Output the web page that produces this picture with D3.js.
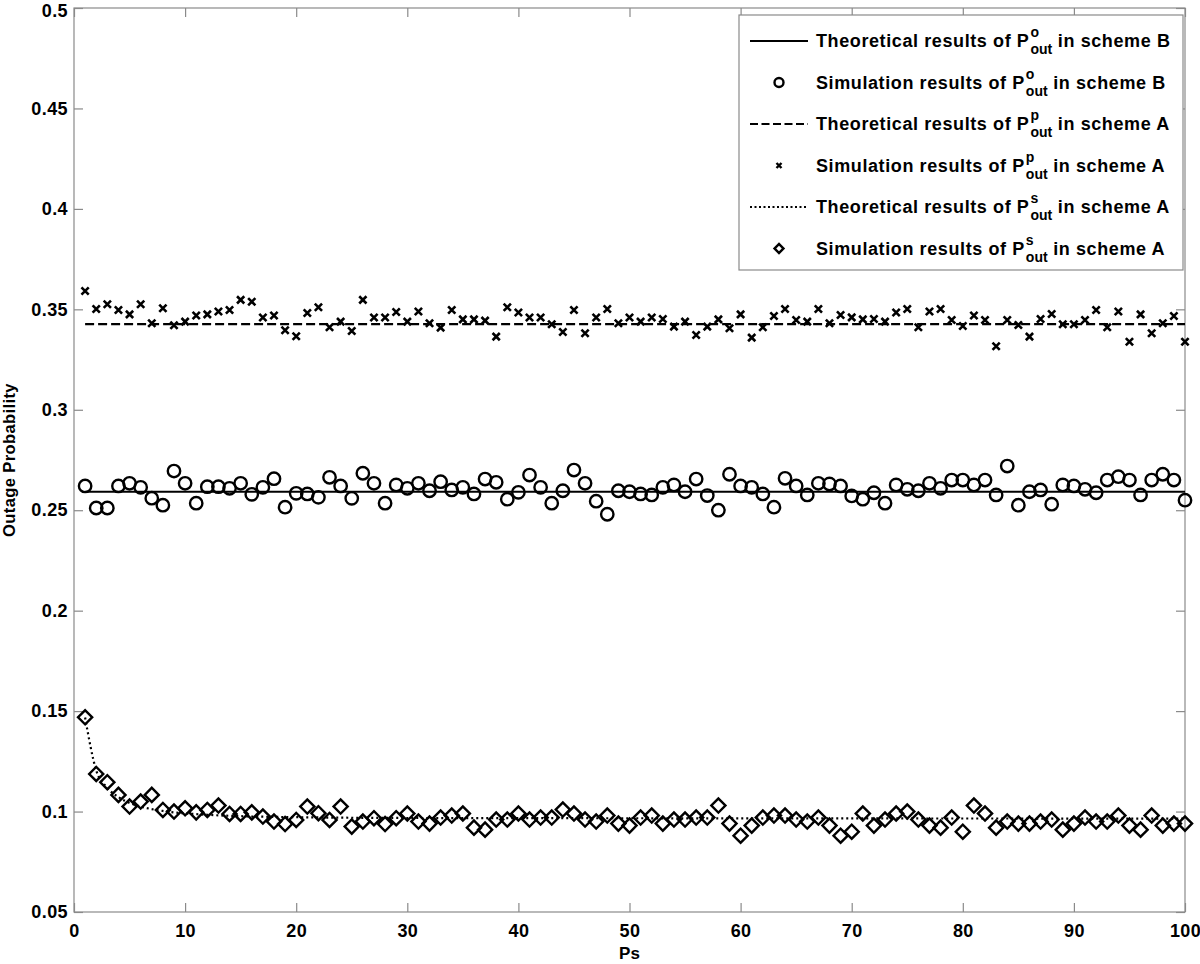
<!DOCTYPE html>
<html>
<head>
<meta charset="utf-8">
<script src="https://cdn.jsdelivr.net/npm/d3@7"></script>
<style>
  body { margin: 0; background: #fff; }
  text { font-family: "Liberation Sans", Arial, Helvetica, sans-serif; font-weight: bold; fill: #000; }
</style>
</head>
<body>
<svg id="chart" width="1200" height="964"></svg>
<script>
// x values (Ps)
const ps = d3.range(1, 101);

// theoretical curves
const theoBX = [1, 100];
const theoB = [0.2592, 0.2592];
const theoAPX = [1, 100];
const theoAP = [0.3426, 0.3426];
const theoASX = [1, 2, 3, 4, 5, 6, 7, 8, 9, 10, 12, 15, 20, 30, 100];
const theoAS = [0.1468, 0.1205, 0.1118, 0.1072, 0.1043, 0.1025, 0.1012, 0.1003, 0.0996, 0.0991, 0.0984, 0.0977, 0.0972, 0.0968, 0.0965];

// simulation results
const simB = [
  0.2621, 0.2511, 0.2511, 0.2621, 0.2634, 0.2614, 0.2560, 0.2525, 0.2695, 0.2634,
  0.2535, 0.2617, 0.2617, 0.2609, 0.2634, 0.2579, 0.2614, 0.2657, 0.2515, 0.2584,
  0.2581, 0.2564, 0.2664, 0.2621, 0.2559, 0.2684, 0.2634, 0.2535, 0.2626, 0.2609,
  0.2634, 0.2597, 0.2642, 0.2601, 0.2614, 0.2581, 0.2655, 0.2639, 0.2555, 0.2589,
  0.2675, 0.2614, 0.2535, 0.2597, 0.2700, 0.2634, 0.2545, 0.2480, 0.2597, 0.2592,
  0.2581, 0.2576, 0.2614, 0.2626, 0.2592, 0.2655, 0.2573, 0.2500, 0.2679, 0.2621,
  0.2614, 0.2581, 0.2515, 0.2659, 0.2621, 0.2576, 0.2634, 0.2631, 0.2621, 0.2571,
  0.2555, 0.2587, 0.2535, 0.2626, 0.2604, 0.2597, 0.2634, 0.2609, 0.2650, 0.2650,
  0.2626, 0.2650, 0.2576, 0.2720, 0.2525, 0.2592, 0.2601, 0.2530, 0.2626, 0.2621,
  0.2604, 0.2587, 0.2650, 0.2667, 0.2650, 0.2576, 0.2650, 0.2679, 0.2650, 0.2550
];
const simAP = [
  0.3591, 0.3502, 0.3525, 0.3497, 0.3475, 0.3525, 0.3431, 0.3505, 0.3421, 0.3439,
  0.3469, 0.3475, 0.3489, 0.3497, 0.3547, 0.3538, 0.3459, 0.3469, 0.3396, 0.3366,
  0.3482, 0.3510, 0.3411, 0.3439, 0.3392, 0.3547, 0.3459, 0.3459, 0.3487, 0.3439,
  0.3489, 0.3431, 0.3409, 0.3497, 0.3450, 0.3450, 0.3444, 0.3364, 0.3510, 0.3484,
  0.3459, 0.3459, 0.3426, 0.3387, 0.3497, 0.3381, 0.3459, 0.3502, 0.3431, 0.3459,
  0.3439, 0.3459, 0.3452, 0.3414, 0.3439, 0.3372, 0.3414, 0.3450, 0.3406, 0.3475,
  0.3359, 0.3411, 0.3467, 0.3502, 0.3447, 0.3439, 0.3502, 0.3431, 0.3472, 0.3460,
  0.3450, 0.3452, 0.3439, 0.3484, 0.3502, 0.3411, 0.3489, 0.3502, 0.3447, 0.3417,
  0.3469, 0.3447, 0.3316, 0.3447, 0.3422, 0.3364, 0.3452, 0.3477, 0.3426, 0.3426,
  0.3447, 0.3497, 0.3411, 0.3489, 0.3339, 0.3475, 0.3381, 0.3431, 0.3467, 0.3339
];
const simAS = [
  0.1469, 0.1187, 0.1146, 0.1083, 0.1025, 0.1050, 0.1083, 0.1008, 0.1000, 0.1016,
  0.0996, 0.1008, 0.1030, 0.0988, 0.0988, 0.0996, 0.0975, 0.0950, 0.0938, 0.0958,
  0.1025, 0.0992, 0.0958, 0.1025, 0.0925, 0.0950, 0.0967, 0.0938, 0.0967, 0.0990,
  0.0950, 0.0940, 0.0970, 0.0980, 0.0990, 0.0920, 0.0910, 0.0960, 0.0960, 0.0990,
  0.0960, 0.0970, 0.0970, 0.1010, 0.0990, 0.0960, 0.0950, 0.0980, 0.0940, 0.0930,
  0.0970, 0.0980, 0.0940, 0.0960, 0.0960, 0.0970, 0.0970, 0.1030, 0.0940, 0.0880,
  0.0930, 0.0970, 0.0980, 0.0980, 0.0960, 0.0950, 0.0970, 0.0930, 0.0880, 0.0900,
  0.0990, 0.0930, 0.0960, 0.0990, 0.1000, 0.0960, 0.0930, 0.0920, 0.0970, 0.0900,
  0.1030, 0.0990, 0.0920, 0.0950, 0.0940, 0.0940, 0.0950, 0.0960, 0.0910, 0.0940,
  0.0970, 0.0950, 0.0950, 0.0980, 0.0930, 0.0910, 0.0980, 0.0930, 0.0940, 0.0940
];

const xTicks = [0, 10, 20, 30, 40, 50, 60, 70, 80, 90, 100];
const yTicks = [0.05, 0.1, 0.15, 0.2, 0.25, 0.3, 0.35, 0.4, 0.45, 0.5];

const legendItems = [
  { pre: "Theoretical results of P", sup: "o", post: " in scheme B", kind: "solid" },
  { pre: "Simulation results of P", sup: "o", post: " in scheme B", kind: "circle" },
  { pre: "Theoretical results of P", sup: "p", post: " in scheme A", kind: "dashed" },
  { pre: "Simulation results of P", sup: "p", post: " in scheme A", kind: "cross" },
  { pre: "Theoretical results of P", sup: "s", post: " in scheme A", kind: "dotted" },
  { pre: "Simulation results of P", sup: "s", post: " in scheme A", kind: "diamond" }
];

const margin = { left: 74, right: 15, top: 8, bottom: 52 };
const W = 1200, H = 964;
const svg = d3.select("#chart");

const x = d3.scaleLinear().domain([0, 100]).range([margin.left, W - margin.right]);
const y = d3.scaleLinear().domain([0.05, 0.5]).range([H - margin.bottom, margin.top]);

const frameColor = "#8a8a8a";
const tickLen = 9;

// axes
const fmt = d => d3.format("")(+d.toFixed(2));
svg.append("g")
  .attr("transform", `translate(0,${y(0.05)})`)
  .call(d3.axisBottom(x).tickValues(xTicks).tickSize(-tickLen).tickPadding(12).tickFormat(d3.format("d")))
  .call(g => g.select(".domain").remove());
svg.append("g")
  .attr("transform", `translate(0,${y(0.5)})`)
  .call(d3.axisTop(x).tickValues(xTicks).tickSize(-tickLen).tickFormat(""))
  .call(g => g.select(".domain").remove());
const yAxis = svg.append("g")
  .attr("transform", `translate(${x(0)},0)`)
  .call(d3.axisLeft(y).tickValues(yTicks).tickSize(-tickLen).tickPadding(6).tickFormat(fmt))
  .call(g => g.select(".domain").remove());
svg.append("g")
  .attr("transform", `translate(${x(100)},0)`)
  .call(d3.axisRight(y).tickValues(yTicks).tickSize(-tickLen).tickFormat(""))
  .call(g => g.select(".domain").remove());

svg.selectAll(".tick line").attr("stroke", frameColor).attr("stroke-width", 1.2);
svg.selectAll(".tick text").attr("font-size", 18).attr("fill", "#000")
  .attr("letter-spacing", 0.4)
  .attr("font-family", "'Liberation Sans', Arial, sans-serif").attr("font-weight", "bold");
// top label sits a little lower so it stays inside the page
yAxis.selectAll(".tick text").filter(d => d === 0.5).attr("dy", "0.32em").attr("y", 3);

svg.append("rect")
  .attr("x", x(0)).attr("y", y(0.5))
  .attr("width", x(100) - x(0)).attr("height", y(0.05) - y(0.5))
  .attr("fill", "none").attr("stroke", frameColor).attr("stroke-width", 1.2);

// axis titles
svg.append("text")
  .attr("x", (x(0) + x(100)) / 2).attr("y", 959)
  .attr("text-anchor", "middle").attr("font-size", 17).text("Ps");
svg.append("text")
  .attr("transform", `translate(15,${(y(0.05) + y(0.5)) / 2}) rotate(-90)`)
  .attr("text-anchor", "middle").attr("font-size", 16.5).attr("letter-spacing", 0.4)
  .text("Outage Probability");

// lines
const line = d3.line().x(d => x(d[0])).y(d => y(d[1]));
const plot = svg.append("g");
plot.append("path").datum(d3.zip(theoBX, theoB)).attr("d", line)
  .attr("fill", "none").attr("stroke", "#000").attr("stroke-width", 2.2);
plot.append("path").datum(d3.zip(theoAPX, theoAP)).attr("d", line)
  .attr("fill", "none").attr("stroke", "#000").attr("stroke-width", 2.2)
  .attr("stroke-dasharray", "9,4");
plot.append("path").datum(d3.zip(theoASX, theoAS)).attr("d", d3.line().curve(d3.curveMonotoneX).x(d => x(d[0])).y(d => y(d[1])))
  .attr("fill", "none").attr("stroke", "#000").attr("stroke-width", 2.2)
  .attr("stroke-dasharray", "2,3");

// markers
const crossPath = d3.symbol(d3.symbolTimes, 36)();
const diamondPath = d3.symbol(d3.symbolSquare, 100)();

plot.selectAll(".simB").data(d3.zip(ps, simB)).join("circle")
  .attr("class", "simB")
  .attr("cx", d => x(d[0])).attr("cy", d => y(d[1])).attr("r", 6.2)
  .attr("fill", "none").attr("stroke", "#000").attr("stroke-width", 2.4);

plot.selectAll(".simAP").data(d3.zip(ps, simAP)).join("path")
  .attr("class", "simAP")
  .attr("d", crossPath)
  .attr("transform", d => `translate(${x(d[0])},${y(d[1])})`)
  .attr("fill", "none").attr("stroke", "#000").attr("stroke-width", 2.6);

plot.selectAll(".simAS").data(d3.zip(ps, simAS)).join("path")
  .attr("class", "simAS")
  .attr("d", diamondPath)
  .attr("transform", d => `translate(${x(d[0])},${y(d[1])}) rotate(45)`)
  .attr("fill", "none").attr("stroke", "#000").attr("stroke-width", 2.4);

// legend
const lg = svg.append("g");
lg.append("rect").attr("x", 739).attr("y", 15).attr("width", 444).attr("height", 255)
  .attr("fill", "#fff").attr("stroke", frameColor).attr("stroke-width", 1.2);

legendItems.forEach((it, i) => {
  const cy = 41 + i * 41.5;
  const g = lg.append("g");
  if (it.kind === "solid" || it.kind === "dashed" || it.kind === "dotted") {
    g.append("line").attr("x1", 750).attr("x2", 808).attr("y1", cy).attr("y2", cy)
      .attr("stroke", "#000").attr("stroke-width", 2.2)
      .attr("stroke-dasharray", it.kind === "dashed" ? "8,3.5" : it.kind === "dotted" ? "2,2.5" : null);
  } else if (it.kind === "circle") {
    g.append("circle").attr("cx", 779).attr("cy", cy).attr("r", 4.5)
      .attr("fill", "none").attr("stroke", "#000").attr("stroke-width", 2.4);
  } else if (it.kind === "cross") {
    g.append("path").attr("d", d3.symbol(d3.symbolTimes, 18)())
      .attr("transform", `translate(779,${cy})`)
      .attr("fill", "none").attr("stroke", "#000").attr("stroke-width", 2.4);
  } else {
    g.append("path").attr("d", d3.symbol(d3.symbolSquare, 40)())
      .attr("transform", `translate(779,${cy}) rotate(45)`)
      .attr("fill", "none").attr("stroke", "#000").attr("stroke-width", 2.4);
  }
  const base = cy + 6;
  const t1 = g.append("text").attr("x", 816).attr("y", base).attr("font-size", 18)
    .attr("letter-spacing", 0.6).text(it.pre);
  const w1 = t1.node().getComputedTextLength();
  const sx = 816 + w1 + 1;
  const ts = g.append("text").attr("x", sx).attr("y", base - 10).attr("font-size", 14).text(it.sup);
  const tb = g.append("text").attr("x", sx).attr("y", base + 7).attr("font-size", 14).text("out");
  const w2 = Math.max(ts.node().getComputedTextLength(), tb.node().getComputedTextLength());
  g.append("text").attr("x", sx + w2).attr("y", base).attr("font-size", 18)
    .attr("letter-spacing", 0.6)
    .attr("xml:space", "preserve").style("white-space", "pre").text(it.post);
});
</script>
</body>
</html>
